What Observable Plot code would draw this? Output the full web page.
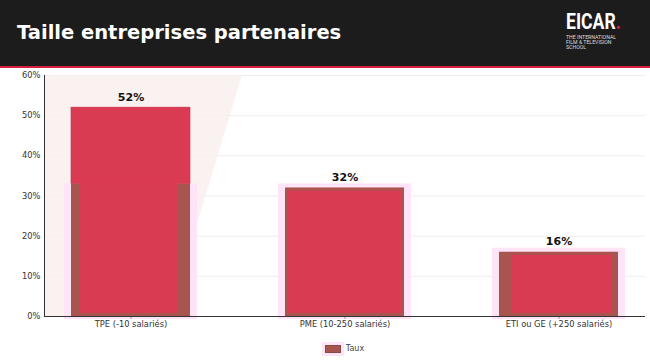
<!DOCTYPE html>
<html>
<head>
<meta charset="utf-8">
<script src="https://cdn.jsdelivr.net/npm/d3@7"></script>
<script src="https://cdn.jsdelivr.net/npm/@observablehq/plot@0.6"></script>
<style>
  html, body { margin: 0; padding: 0; background: #ffffff; width: 650px; height: 363px; overflow: hidden; }
  #header { position: relative; height: 66px; background: #1c1c1c; border-bottom: 2px solid #d61f3c; box-sizing: content-box; }
  #title { position: absolute; left: 17px; top: 23px; line-height: 20px; color: #ffffff; font-family: "DejaVu Sans", sans-serif; font-weight: 700; font-size: 19.5px; white-space: nowrap; }
  #logo { position: absolute; left: 566px; top: 9px; color: #ffffff; font-family: Roboto, sans-serif; }
  #logo .name { font-weight: 700; font-size: 22px; line-height: 26px; height: 26px; transform: scaleX(0.8); transform-origin: 0 0; white-space: nowrap; }
  #logo .dot { color: #e0203e; }
  #logo .sub { font-size: 5.2px; line-height: 5.1px; color: #dddddd; white-space: nowrap; }
  #chart { display: block; }
  #legend { box-sizing: border-box; width: 650px; padding-left: 44px; padding-right: 5px; text-align: center; font-family: "DejaVu Sans", sans-serif; font-size: 8px; color: #444; margin-top: 9px; }
  #legend .item { display: inline-flex; align-items: center; gap: 5px; }
  #legend .sw { display: inline-block; width: 14px; height: 6px; background: #a85550; border: 1px solid #8a4a45; box-shadow: 0 0 0 3px #ffe3f6; }
</style>
</head>
<body>
<div id="header">
  <div id="title">Taille entreprises partenaires</div>
  <div id="logo">
    <div class="name">EICAR<span class="dot">.</span></div>
    <div class="sub">THE INTERNATIONAL<br>FILM &amp; TELEVISION<br>SCHOOL</div>
  </div>
</div>
<div id="chart"></div>
<div id="legend"><span class="item"><span class="sw"></span><span id="legendText"></span></span></div>
<script>
const categories = ["TPE (-10 salariés)", "PME (10-250 salariés)", "ETI ou GE (+250 salariés)"];
const values = [52, 32, 16];
const valueLabels = ["52%", "32%", "16%"];
const yTicks = [0, 10, 20, 30, 40, 50, 60];
const seriesName = "Taux";

document.getElementById("legendText").textContent = seriesName;

const data = categories.map((c, i) => ({cat: c, v: values[i], label: valueLabels[i]}));
const RED = "#d93b52";
const BROWN = "#a85550";
const GLOW = "#ffe3f6";
const first = d => d.cat === categories[0];
const second = d => d.cat === categories[1];
const third = d => d.cat === categories[2];

const plot = Plot.plot({
  width: 650,
  height: 267,
  marginLeft: 44,
  marginRight: 5,
  marginTop: 7,
  marginBottom: 19,
  style: {fontFamily: "'DejaVu Sans', sans-serif", background: "transparent"},
  x: {domain: categories, paddingInner: 0.445, paddingOuter: 0.1235, label: null},
  y: {domain: [0, 60], label: null},
  marks: [
    Plot.gridY(yTicks, {stroke: "#e8e8e8", strokeOpacity: 1, strokeWidth: 0.8}),
    // glow behind bars
    Plot.barY(data, {x: "cat", y1: -0.75, y2: d => Math.min(d.v + 1, 33), fill: GLOW, insetLeft: -7, insetRight: -7}),
    // TPE
    Plot.barY(data, {filter: first, x: "cat", y1: 0, y2: 33, fill: BROWN}),
    Plot.barY(data, {filter: first, x: "cat", y1: 33, y2: "v", fill: RED, stroke: "#c8304a", strokeWidth: 0.6}),
    Plot.barY(data, {filter: first, x: "cat", y1: 0, y2: 33, fill: RED, insetLeft: 9, insetRight: 13, insetBottom: 3, insetTop: -1}),
    // PME
    Plot.barY(data, {filter: second, x: "cat", y: "v", fill: BROWN}),
    Plot.barY(data, {filter: second, x: "cat", y: "v", fill: RED, insetLeft: 3, insetRight: 3, insetTop: 3, insetBottom: 3}),
    // ETI
    Plot.barY(data, {filter: third, x: "cat", y: "v", fill: BROWN}),
    Plot.barY(data, {filter: third, x: "cat", y: "v", fill: RED, insetLeft: 12, insetRight: 7, insetTop: 3, insetBottom: 3}),
    Plot.text(data, {x: "cat", y: "v", text: "label", dy: -7, lineAnchor: "bottom", fontWeight: "bold", fontSize: 11, fill: "#111"}),
    Plot.axisY({ticks: yTicks, tickFormat: d => d + "%", tickSize: 0, tickPadding: 4, fontSize: 8.3, color: "#333"}),
    Plot.axisX({tickSize: 3, tickPadding: 2, fontSize: 8.3, color: "#333", stroke: "#999"}),
    Plot.ruleY([0], {stroke: "#333", strokeWidth: 1}),
    Plot.frame({anchor: "left", stroke: "#333", strokeWidth: 1})
  ]
});

// decorative light trapezoid behind first bar, positioned from the scales
const xs = plot.scale("x");
const ys = plot.scale("y");
const bx = xs.apply(categories[0]);
const bw = xs.bandwidth;
const yTop = ys.apply(60), yBot = ys.apply(0);
const x0 = 44;
const pts = [[x0, yTop], [bx + bw + 52, yTop], [bx + bw - 21, yBot], [x0, yBot]];
const poly = document.createElementNS("http://www.w3.org/2000/svg", "polygon");
poly.setAttribute("points", pts.map(p => p.join(",")).join(" "));
poly.setAttribute("fill", "#f9eded");
poly.setAttribute("fill-opacity", "0.8");
const grid = plot.querySelector('[aria-label="y-grid"]');
if (grid && grid.nextSibling) plot.insertBefore(poly, grid.nextSibling); else plot.insertBefore(poly, plot.firstChild.nextSibling);

document.getElementById("chart").appendChild(plot);
</script>
</body>
</html>
